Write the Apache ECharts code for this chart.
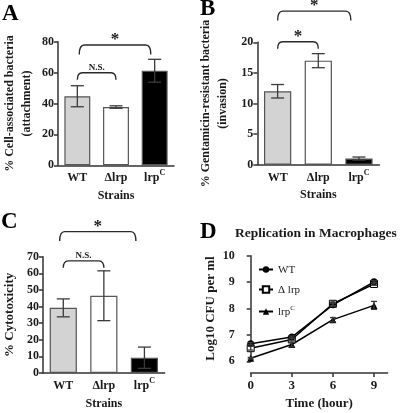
<!DOCTYPE html>
<html><head><meta charset="utf-8">
<script src="https://cdn.jsdelivr.net/npm/echarts@6/dist/echarts.min.js"></script>
<style>html,body{margin:0;padding:0;background:#fff}#c{width:400px;height:413px}</style>
</head><body><div id="c"></div>
<script>
// ---- data ----
const strains = ['WT', 'Δlrp', 'lrpC'];
const attachMean = [44.7, 37.7, 61.2];
const attachErr = [6.8, 0.8, 7.4];
const invasionMean = [12.0, 17.0, 1.0];
const invasionErr = [1.1, 1.15, 0.25];
const cytoMean = [39.2, 46.5, 9.2];
const cytoErr = [5.4, 15.0, 6.4];
const timeHours = [0, 3, 6, 9];
const timeTicks = [0, 3, 6, 9];
const repWT = [6.67, 6.92, 8.14, 9.01];
const repWTErr = [0.04, 0.04, 0.06, 0.04];
const repLrp = [6.50, 6.83, 8.18, 8.93];
const repLrpErr = [0.07, 0.05, 0.06, 0.05];
const repLrpC = [6.12, 6.64, 7.58, 8.12];
const repLrpCErr = [0.03, 0.09, 0.08, 0.15];
const lineNames = ['WT', 'Δ lrp', 'lrpC'];
// significance brackets: [fromCategory, toCategory, top value, label]
const bracketsA = [[0, 1, 59.9, 'N.S.'], [0.05, 1.9, 77.9, '*']];
const bracketsB = [[0, 1, 20.1, '*'], [0, 1.8, 25.1, '*']];
const bracketsC = [[0, 1, 67.5, 'N.S.'], [-0.09, 1.79, 85.1, '*']];

// ---- styles ----
const FF = '"Liberation Serif", "Times New Roman", serif';
const TXT = '#1a1a1a';
const AX = '#333';
const barColors = ['#d3d3d3', '#ffffff', '#000000'];

const catLabel = {
  interval: 0,
  fontFamily: FF, fontWeight: 'bold', fontSize: 12, color: TXT, margin: 4,
  formatter: v => v === 'lrpC' ? '{n|lrp}{s|C}' : '{n|' + v + '}',
  rich: {
    n: {fontFamily: FF, fontWeight: 'bold', fontSize: 12, color: TXT, lineHeight: 15, verticalAlign: 'bottom'},
    s: {fontFamily: FF, fontWeight: 'bold', fontSize: 8, color: TXT, lineHeight: 8, verticalAlign: 'top'}
  }
};
const valLabel = {fontFamily: FF, fontWeight: 'bold', fontSize: 12, color: TXT, margin: 4};
const axLine = {show: true, lineStyle: {color: AX, width: 1.5}};
const axTick = {show: true, length: 4, lineStyle: {color: AX, width: 1.5}};
const nameStyle = {fontFamily: FF, fontWeight: 'bold', fontSize: 12, color: TXT, lineHeight: 17};

function catAxis(grid) {
  return {
    type: 'category', gridIndex: grid, data: strains, boundaryGap: true,
    axisLine: axLine, axisTick: {show: false}, axisLabel: catLabel,
    name: 'Strains', nameLocation: 'middle', nameGap: 22, nameTextStyle: nameStyle
  };
}
function valAxis(grid, max, interval, name, gap, fs) {
  return {
    type: 'value', gridIndex: grid, min: 0, max: max, interval: interval,
    axisLine: axLine, axisTick: axTick, axisLabel: valLabel, splitLine: {show: false},
    name: name, nameLocation: 'middle', nameRotate: 90, nameGap: gap,
    nameTextStyle: Object.assign({}, nameStyle, {fontSize: fs || 12})
  };
}

function errRender(cap, color) {
  return function (params, api) {
    const x = api.value(0), m = api.value(1), e = api.value(2);
    const hi = api.coord([x, m + e]), lo = api.coord([x, m - e]);
    const cx = hi[0];
    const st = {stroke: color, lineWidth: 1.3};
    return {type: 'group', children: [
      {type: 'line', shape: {x1: cx, y1: hi[1], x2: cx, y2: lo[1]}, style: st},
      {type: 'line', shape: {x1: cx - cap, y1: hi[1], x2: cx + cap, y2: hi[1]}, style: st},
      {type: 'line', shape: {x1: cx - cap, y1: lo[1], x2: cx + cap, y2: lo[1]}, style: st}
    ]};
  };
}
function bracketRender(list) {
  return function (params, api) {
    const b = list[params.dataIndex];
    const y = api.value(3);
    const bw = api.size([1, 0])[0];
    const p0 = api.coord([0, y]);
    const X1 = p0[0] + api.value(1) * bw, X2 = p0[0] + api.value(2) * bw, Y = p0[1];
    const drop = (api.value(2) - api.value(1)) > 1.3 ? 9.5 : 7;
    const r = 5;
    const d = 'M' + X1 + ' ' + (Y + drop) + ' Q' + X1 + ' ' + Y + ' ' + (X1 + r) + ' ' + Y +
      ' L' + (X2 - r) + ' ' + Y + ' Q' + X2 + ' ' + Y + ' ' + X2 + ' ' + (Y + drop);
    const isStar = b[3] === '*';
    return {type: 'group', children: [
      {type: 'path', shape: {pathData: d}, style: {fill: null, stroke: '#2a2a2a', lineWidth: 1.4}},
      {type: 'text', x: (X1 + X2) / 2, y: isStar ? Y + 3 : Y - 1,
        style: {text: b[3], align: 'center', verticalAlign: 'bottom',
          font: isStar ? 'bold 17px ' + FF : 'bold 9px ' + FF, fill: TXT}}
    ]};
  };
}
function barSeries(grid, vals) {
  return {
    type: 'bar', xAxisIndex: grid, yAxisIndex: grid, barWidth: '67%',
    data: vals.map((v, i) => ({value: v, itemStyle: {color: barColors[i]}})),
    itemStyle: {borderColor: '#555', borderWidth: 1.2}
  };
}
function errSeries(xi, means, errs, xs, cap) {
  return {
    type: 'custom', xAxisIndex: xi, yAxisIndex: xi, z: 5, clip: false,
    renderItem: errRender(cap, '#3a3a3a'),
    encode: {x: 0, y: 1},
    data: means.map((m, i) => [xs ? xs[i] : i, m, errs[i]])
  };
}
function bracketSeries(grid, list) {
  return {
    type: 'custom', xAxisIndex: grid, yAxisIndex: grid, z: 6, clip: false,
    renderItem: bracketRender(list), encode: {x: 0, y: 3},
    data: list.map(b => [0, b[0], b[1], b[2]])
  };
}

const chart = echarts.init(document.getElementById('c'), null, {renderer: 'canvas'});
const letter = (t, l, tp) => ({text: t, left: l, top: tp, padding: 0,
  textStyle: {fontFamily: FF, fontWeight: 'bold', fontSize: 23, color: '#000'}});

chart.setOption({
  animation: false,
  backgroundColor: '#fff',
  title: [
    letter('A', 2, 3), letter('B', 200, -2), letter('C', 1, 211), letter('D', 200, 221),
    {text: 'Replication in Macrophages', left: 235, top: 227, padding: 0,
      textStyle: {fontFamily: FF, fontWeight: 'bold', fontSize: 13.5, color: TXT}}
  ],
  grid: [
    {left: 50, top: 41.7, width: 124, height: 123.6},
    {left: 257.3, top: 42.3, width: 122, height: 122.4},
    {left: 41.7, top: 256.7, width: 123, height: 123.3},
    {left: 250.7, top: 255.7, width: 137, height: 112}
  ],
  xAxis: [
    catAxis(0), catAxis(1), catAxis(2),
    {type: 'value', gridIndex: 3, min: 0, max: 10, offset: 11.6,
      axisLine: axLine, axisTick: Object.assign({}, axTick, {customValues: timeTicks}),
      axisLabel: Object.assign({}, valLabel, {fontSize: 13, margin: 6, customValues: timeTicks}),
      splitLine: {show: false},
      name: 'Time (hour)', nameLocation: 'middle', nameGap: 22, nameTextStyle: Object.assign({}, nameStyle, {fontSize: 13})}
  ],
  yAxis: [
    valAxis(0, 80, 20, '% Cell-associated bacteria\n(attachment)', 23),
    valAxis(1, 20, 5, '% Gentamicin-resistant bacteria\n(invasion)', 26),
    valAxis(2, 70, 10, '% Cytotoxicity', 25, 13),
    Object.assign(valAxis(3, 10, 1, 'Log10 CFU per ml', 20, 13), {min: 6, offset: 12})
  ],
  legend: {
    left: 253, top: 260, orient: 'vertical', itemWidth: 14, itemHeight: 8, itemGap: 9,
    data: lineNames,
    formatter: n => n === 'lrpC' ? '{n|lrp}{s|C}' : '{n|' + n + '}',
    textStyle: {fontFamily: FF, fontSize: 11, color: TXT,
      rich: {
        n: {fontFamily: FF, fontSize: 11, color: TXT, lineHeight: 13, verticalAlign: 'bottom'},
        s: {fontFamily: FF, fontSize: 7, color: TXT, lineHeight: 7, verticalAlign: 'top'}
      }}
  },
  series: [
    barSeries(0, attachMean), errSeries(0, attachMean, attachErr, null, 6.5), bracketSeries(0, bracketsA),
    barSeries(1, invasionMean), errSeries(1, invasionMean, invasionErr, null, 6.5), bracketSeries(1, bracketsB),
    barSeries(2, cytoMean), errSeries(2, cytoMean, cytoErr, null, 6.5), bracketSeries(2, bracketsC),
    {type: 'line', name: lineNames[0], xAxisIndex: 3, yAxisIndex: 3, data: timeHours.map((t, i) => [t, repWT[i]]),
      symbol: 'circle', symbolSize: 7, lineStyle: {color: '#000', width: 1.5}, itemStyle: {color: '#000'}, z: 4},
    {type: 'line', name: lineNames[1], xAxisIndex: 3, yAxisIndex: 3, data: timeHours.map((t, i) => [t, repLrp[i]]),
      symbol: 'rect', symbolSize: 7, lineStyle: {color: '#000', width: 1.5},
      itemStyle: {color: '#fff', borderColor: '#000', borderWidth: 1}, z: 3},
    {type: 'line', name: lineNames[2], xAxisIndex: 3, yAxisIndex: 3, data: timeHours.map((t, i) => [t, repLrpC[i]]),
      symbol: 'triangle', symbolSize: 7, lineStyle: {color: '#000', width: 1.5}, itemStyle: {color: '#000'}, z: 3},
    errSeries(3, repWT, repWTErr, timeHours, 3),
    errSeries(3, repLrp, repLrpErr, timeHours, 3),
    errSeries(3, repLrpC, repLrpCErr, timeHours, 3)
  ]
});
</script></body></html>
